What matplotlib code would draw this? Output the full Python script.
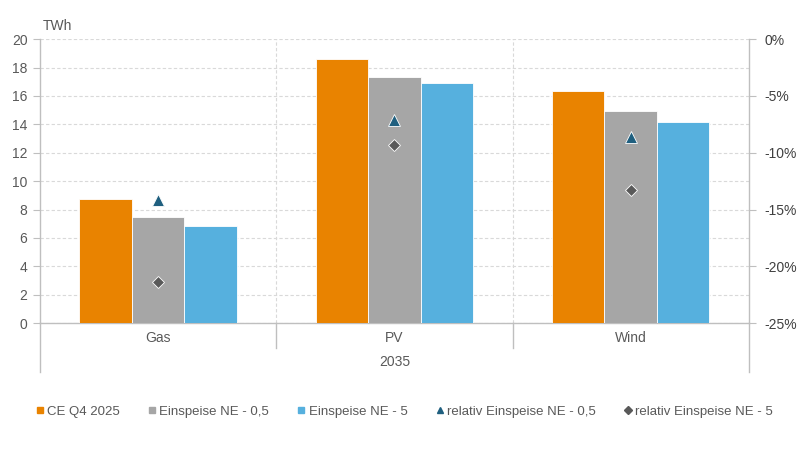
import matplotlib
matplotlib.use("Agg")
import matplotlib.pyplot as plt
from matplotlib.lines import Line2D
import matplotlib.transforms as mtransforms

plt.rcParams['font.family'] = ['Liberation Sans', 'DejaVu Sans']

categories = ["Gas", "PV", "Wind"]
group_label = "2035"
ce_q4_2025 = [8.71, 18.61, 16.34]
einspeise_05 = [7.49, 17.30, 14.93]
einspeise_5 = [6.85, 16.90, 14.15]
rel_05 = [-14.2, -7.1, -8.6]
rel_5 = [-21.4, -9.3, -13.3]
series_names = ["CE Q4 2025", "Einspeise NE - 0,5", "Einspeise NE - 5",
                "relativ Einspeise NE - 0,5", "relativ Einspeise NE - 5"]
left_ticks = list(range(0, 21, 2))
right_ticks = list(range(-25, 1, 5))

c_orange = "#E98300"
c_gray = "#A6A6A6"
c_blue = "#56B0DE"
c_tri = "#1F5F7F"
c_dia = "#595959"
txt = "#595959"
line_c = "#BFBFBF"
grid_c = "#D9D9D9"

fig = plt.figure(figsize=(8, 4.5), dpi=100)
ax = fig.add_axes([0.05, 0.282, 0.886, 0.631])

x = list(range(len(categories)))
w = 0.222
for off, vals, col in [(-w, ce_q4_2025, c_orange), (0, einspeise_05, c_gray), (w, einspeise_5, c_blue)]:
    ax.bar([xi + off for xi in x], vals, width=w, color=col, edgecolor="white", linewidth=0.6, zorder=3)

ax.set_xlim(-0.5, 2.5)
ax.set_ylim(0, 20)
ax.set_yticks(left_ticks)
ax.set_xticks([])
ax.yaxis.grid(True, color=grid_c, linestyle=(0, (3, 2)), linewidth=0.8, zorder=0)
for xv in [0.5, 1.5]:
    ax.axvline(xv, color=grid_c, linestyle=(0, (3, 2)), linewidth=0.8, zorder=0)
ax.spines['top'].set_visible(False)
for s in ['left', 'right', 'bottom']:
    ax.spines[s].set_color(line_c)
    ax.spines[s].set_linewidth(1.0)
ax.tick_params(axis='y', colors=line_c, labelcolor=txt, labelsize=10, length=5, width=0.8, pad=4)

# category separators below axis
trans = mtransforms.blended_transform_factory(ax.transData, ax.transAxes)
for xv, yb in [(-0.5, -0.173), (2.5, -0.173), (0.5, -0.088), (1.5, -0.088)]:
    ax.plot([xv, xv], [0, yb], color=line_c, linewidth=1.0, transform=trans, clip_on=False)
for xi, cat in zip(x, categories):
    ax.text(xi, -0.053, cat, transform=trans, ha='center', va='center', fontsize=10, color=txt)
ax.text(1, -0.137, group_label, transform=trans, ha='center', va='center', fontsize=10, color=txt)

ax.text(0.004, 1.045, "TWh", transform=ax.transAxes, ha='left', va='center', fontsize=10, color=txt)

ax2 = ax.twinx()
ax2.set_ylim(-25, 0)
ax2.set_yticks(right_ticks)
ax2.set_yticklabels([f"{v}%" for v in right_ticks])
for s in ax2.spines.values():
    s.set_visible(False)
ax2.tick_params(axis='y', colors=line_c, labelcolor="#404040", labelsize=10, length=5, width=0.8, pad=6)
ax2.plot(x, rel_05, linestyle='none', marker='^', markersize=9, color=c_tri,
         markeredgecolor='white', markeredgewidth=0.6, zorder=5)
ax2.plot(x, rel_5, linestyle='none', marker='D', markersize=6.5, color=c_dia,
         markeredgecolor='white', markeredgewidth=0.6, zorder=5)

handles = [
    Line2D([], [], linestyle='none', marker='s', markersize=5, color=c_orange),
    Line2D([], [], linestyle='none', marker='s', markersize=5, color=c_gray),
    Line2D([], [], linestyle='none', marker='s', markersize=5, color=c_blue),
    Line2D([], [], linestyle='none', marker='^', markersize=5, color=c_tri),
    Line2D([], [], linestyle='none', marker='D', markersize=4, color=c_dia),
]
leg = fig.legend(handles, series_names, loc='center left', bbox_to_anchor=(0.03, 0.085),
                 ncol=5, frameon=False, fontsize=9.5, handlelength=0.6, handletextpad=0.25,
                 columnspacing=2.15, labelcolor=txt)

fig.savefig("out.png", dpi=100)
